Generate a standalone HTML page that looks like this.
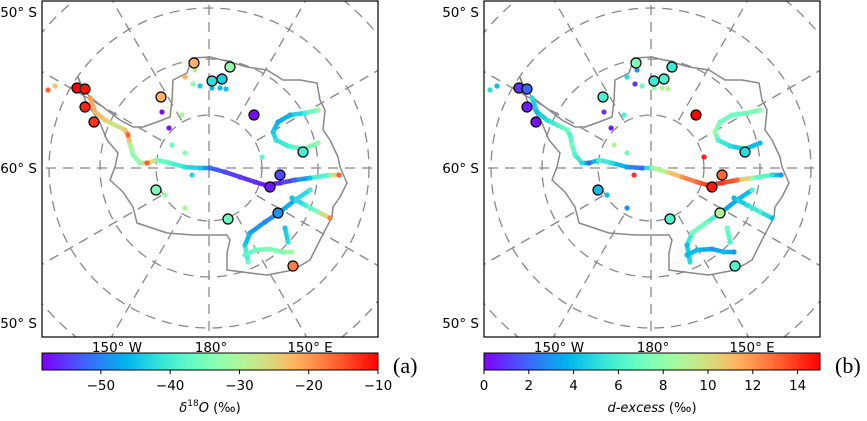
<!DOCTYPE html>
<html><head><meta charset="utf-8"><style>
body{margin:0;background:#fff;width:867px;height:416px;overflow:hidden;font-family:"Liberation Sans",sans-serif}
svg text{font-family:"DejaVu Sans","Liberation Sans",sans-serif}
</style></head><body>
<svg id="fig" width="867" height="416" xmlns="http://www.w3.org/2000/svg"></svg>
<script>
// Station data: polar-stereographic easting / northing (km) and measured values
const stationX = [-2640,-2480,-2480,-2300,-960,-300,420,60,260,900,1880,1420,1220,-1060,380,1380,1680];
const stationY = [1600,1580,1220,920,1420,2100,2020,1740,1780,1060,320,-140,-380,-440,-1020,-900,-1960];
const stationD18O = [-10,-11,-12,-13,-22,-22,-32,-42,-44,-58,-40,-54,-57,-34,-36,-49,-18];
const stationDex = [1,2,0.5,0.3,6,7.5,5.5,5.5,6,15,5,13,14.5,4,6,9,6];

// Traverses
const travX = [
 [-2380,-2280,-2080,-1880,-1680,-1620,-1580,-1520,-1380,-1240,-1040,-780,-480,-180,20,320,620,920,1120,1420,1720,2020,2420,2600],
 [2020,1720,1420,1120,820,720,780],
 [1660,1920,2180,2420],
 [720,920,1220,1460,1660],
 [1520,1580],
 [2180,1920,1620,1380,1280,1340,1580,1880,2180]];
const travY = [
 [1400,1120,960,860,760,660,460,260,100,100,160,100,20,0,0,-80,-180,-280,-340,-300,-240,-200,-140,-140],
 [-440,-640,-880,-1080,-1300,-1540,-1880],
 [-600,-740,-880,-1000],
 [-1740,-1640,-1620,-1680,-1680],
 [-1200,-1480],
 [1160,1100,1060,920,720,560,440,380,500]];
const travD18O = [
 [-20,-22,-24,-28,-24,-16,-30,-33,-33,-16,-35,-38,-42,-44,-52,-54,-55,-56,-57,-56,-52,-45,-33,-16],
 [-40,-45,-49,-50,-47,-44,-36],
 [-45,-40,-33,-18],
 [-38,-36,-35,-34,-31],
 [-45,-42],
 [-32,-40,-46,-47,-44,-42,-40,-36,-33]];
const travDex = [
 [5,4,5,6,7,6,7,6,5,2,6,5,3,2,8,10,12,13,14,14,13,8,5,3],
 [6,2,5,7,7,4,5],
 [4,5,6,4],
 [4,4,3,4,3],
 [7,6],
 [8,7,7,7,8,6,5,4,4]];

// Scattered samples
const dotX = [-940,-800,-740,-480,-340,-880,-480,1060,-180,60,220,340,-280,-480,-320,-3220,-3080,-540];
const dotY = [1120,800,460,300,-140,-540,-800,220,1640,1600,1600,1580,1960,1820,1680,1560,1640,1060];
const dotD18O = [-58,-57,-36,-34,-43,-32,-30,-38,-44,-46,-46,-45,-28,-22,-33,-16,-24,-30];
const dotDex = [1,0.5,9,7,14,4,3,14.5,7,8,9,9,3,5,1,5,4,6];

const cbTicksA = [-50,-40,-30,-20,-10];
const cbTicksB = [0,2,4,6,8,10,12,14];

const NS="http://www.w3.org/2000/svg";
const fig=document.getElementById('fig');
function mk(tag,attrs,parent){const e=document.createElementNS(NS,tag);for(const k in attrs)e.setAttribute(k,attrs[k]);(parent||fig).appendChild(e);return e;}
function rainbow(t){t=Math.max(0,Math.min(1,t));const c=v=>Math.round(255*Math.max(0,Math.min(1,v)));
 return `rgb(${c(Math.abs(2*t-0.5))},${c(Math.sin(Math.PI*t))},${c(Math.cos(Math.PI*t/2))})`;}
const KM=20, CX=209, CY=168;
const sx=x=>CX+x/KM, sy=y=>CY-y/KM;
const coast="M78,77 L82,87 L90,97 L103,107 L120,120 L133,127 L143,127 L157,122 L170,117 L172,100 L173,80 L187,73 L192,58 L210,57 L230,62 L247,67 L267,70 L283,80 L300,80 L317,83 L320,100 L325,110 L323,130 L330,140 L338,157 L340,167 L347,183 L340,197 L333,207 L332,217 L320,240 L310,260 L293,270 L267,275 L250,273 L227,270 L227,253 L230,240 L227,235 L193,235 L167,233 L137,223 L133,207 L123,192 L110,180 L115,167 L118,153 L107,140 L100,123 L85,100 Z";

function panel(ox,vmin,vmax,sv,tv,dv,ticks,label,letter){
 const g=mk('g',{transform:`translate(${ox},0)`});
 
 
 const clipId='clip'+letter;
 const cp=mk('clipPath',{id:clipId},g);mk('rect',{x:42,y:1,width:336,height:336},cp);
 const inner=mk('g',{'clip-path':`url(#${clipId})`},g);
 const grid=mk('g',{},inner);
 
 
 [53,109,160,215].forEach(r=>mk('circle',{cx:CX,cy:CY,r:r,fill:'none',stroke:'#888','stroke-width':1.3,'stroke-dasharray':'10,7'},grid));
 for(let a=0;a<360;a+=30){const rad=a*Math.PI/180;const r0=(a%90===0)?0:55;
  mk('line',{x1:CX+r0*Math.sin(rad),y1:CY-r0*Math.cos(rad),x2:CX+260*Math.sin(rad),y2:CY-260*Math.cos(rad),stroke:'#888','stroke-width':1.3,'stroke-dasharray':'10,7'},grid);}
 const cl=mk('path',{d:coast,fill:'none',stroke:'#888','stroke-width':1.5,'stroke-linejoin':'round'},inner);
 
 
 const norm=v=>(v-vmin)/(vmax-vmin);
 travX.forEach((xs,i)=>{
  for(let j=0;j<xs.length-1;j++){
   const s=mk('line',{x1:sx(xs[j]),y1:sy(travY[i][j]),x2:sx(xs[j+1]),y2:sy(travY[i][j+1]),stroke:rainbow(norm((tv[i][j]+tv[i][j+1])/2)),'stroke-width':4.5,'stroke-linecap':'round'},inner);
   
   
  }
  xs.forEach((x,j)=>{const d=mk('circle',{cx:sx(x),cy:sy(travY[i][j]),r:2.6,fill:rainbow(norm(tv[i][j]))},inner);
   
   });
 });
 dotX.forEach((x,i)=>{const d=mk('circle',{cx:sx(x),cy:sy(dotY[i]),r:2.6,fill:rainbow(norm(dv[i]))},inner);
  
  });
 stationX.forEach((x,i)=>{const d=mk('circle',{cx:sx(x),cy:sy(stationY[i]),r:5,fill:rainbow(norm(sv[i])),stroke:'#000','stroke-width':1.2},inner);
  
  });
 mk('rect',{x:42,y:1,width:336,height:336,fill:'none',stroke:'#000','stroke-width':1.2},g);
 [['50° S',12],['60° S',168],['50° S',323]].forEach(([t,y])=>{const e=mk('text',{x:37,y:y+5,'font-size':13.5,'text-anchor':'end'},g);e.textContent=t;
  
  });
 [['150°  W',117],['180°',211],['150°  E',310]].forEach(([t,x])=>{const e=mk('text',{x:x,y:352,'font-size':13.5,'text-anchor':'middle'},g);e.textContent=t;
  
  });
 // colorbar
 const gid='grad'+letter;const lg=mk('linearGradient',{id:gid,x1:0,x2:1,y1:0,y2:0},g);
 for(let k=0;k<=20;k++)mk('stop',{offset:k/20,'stop-color':rainbow(k/20)},lg);
 const cb=mk('rect',{x:42,y:353,width:336,height:17,fill:`url(#${gid})`,stroke:'#000','stroke-width':1},g);
 
 
 ticks.forEach(v=>{const x=42+336*norm(v);
  mk('line',{x1:x,y1:370,x2:x,y2:374,stroke:'#000'},g);
  const t=mk('text',{x:x,y:390,'font-size':13.5,'text-anchor':'middle'},g);t.textContent=(v<0?'\u2212'+(-v):v);
  
  });
 const lt=mk('text',{x:210,y:412,'font-size':13,'text-anchor':'middle'},g);
 
 
 lt.innerHTML=label;
 const pl=mk('text',{x:352+ox*0,y:373,'font-size':22,'font-family':'Liberation Serif, serif'},g);
 pl.setAttribute('x',393);pl.style.fontFamily='"Liberation Serif",serif';pl.textContent='('+letter+')';
 
 
}
panel(0,-58.5,-10,stationD18O,travD18O,dotD18O,cbTicksA,'<tspan font-style="italic">δ</tspan><tspan font-size="9" dy="-6">18</tspan><tspan dy="6" font-style="italic">O</tspan> (‰)','a');
panel(442,0,15,stationDex,travDex,dotDex,cbTicksB,'<tspan font-style="italic">d-excess</tspan> (‰)','b');
</script>
</body></html>
